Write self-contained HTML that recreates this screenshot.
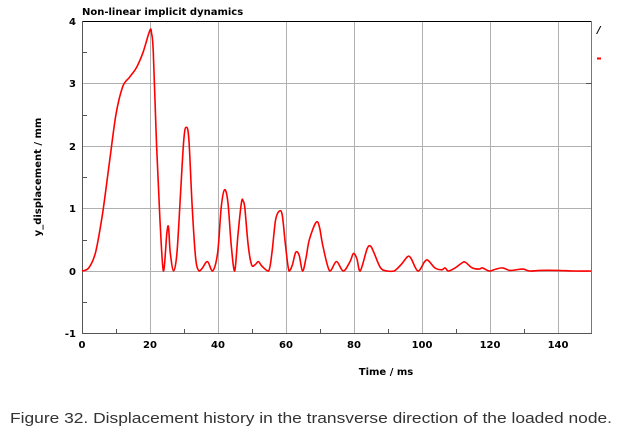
<!DOCTYPE html>
<html><head><style>
html,body{margin:0;padding:0;background:#fff;}
</style></head><body>
<svg id="s" width="619" height="431" xmlns="http://www.w3.org/2000/svg" font-family="'DejaVu Sans','Liberation Sans',sans-serif">
<g stroke="#b0b0b0" stroke-width="1">
<line x1="150.5" y1="21" x2="150.5" y2="334"/>
<line x1="218.5" y1="21" x2="218.5" y2="334"/>
<line x1="286.5" y1="21" x2="286.5" y2="334"/>
<line x1="354.5" y1="21" x2="354.5" y2="334"/>
<line x1="422.5" y1="21" x2="422.5" y2="334"/>
<line x1="490.5" y1="21" x2="490.5" y2="334"/>
<line x1="558.5" y1="21" x2="558.5" y2="334"/>
<line x1="82" y1="83.5" x2="592" y2="83.5"/>
<line x1="82" y1="146.5" x2="592" y2="146.5"/>
<line x1="82" y1="208.5" x2="592" y2="208.5"/>
<line x1="82" y1="271.5" x2="592" y2="271.5"/>
</g>
<line x1="82" y1="21.5" x2="592" y2="21.5" stroke="#000" stroke-width="1"/>
<line x1="591.5" y1="21" x2="591.5" y2="334" stroke="#777"/>
<line x1="82.5" y1="21" x2="82.5" y2="334" stroke="#555"/>
<line x1="82" y1="333.5" x2="592" y2="333.5" stroke="#555"/>
<g stroke="#555">
<line x1="82" y1="52.5" x2="87" y2="52.5"/><line x1="82" y1="115.5" x2="87" y2="115.5"/>
<line x1="82" y1="177.5" x2="87" y2="177.5"/><line x1="82" y1="240.5" x2="87" y2="240.5"/>
<line x1="82" y1="302.5" x2="87" y2="302.5"/>
<line x1="586" y1="83.5" x2="592" y2="83.5"/>
<line x1="116.5" y1="334" x2="116.5" y2="329"/><line x1="184.5" y1="334" x2="184.5" y2="329"/>
<line x1="252.5" y1="334" x2="252.5" y2="329"/><line x1="320.5" y1="334" x2="320.5" y2="329"/>
<line x1="388.5" y1="334" x2="388.5" y2="329"/><line x1="456.5" y1="334" x2="456.5" y2="329"/>
<line x1="524.5" y1="334" x2="524.5" y2="329"/>
</g>
<g font-size="10" font-weight="bold" fill="#000">
<text x="82" y="15">Non-linear implicit dynamics</text>
<g text-anchor="end"><text x="76" y="25">4</text><text x="76" y="87">3</text><text x="76" y="150">2</text><text x="76" y="212">1</text><text x="76" y="275">0</text><text x="76" y="337">-1</text></g>
<g text-anchor="middle"><text x="82" y="348">0</text><text x="150" y="348">20</text><text x="218" y="348">40</text><text x="286" y="348">60</text><text x="354" y="348">80</text><text x="422" y="348">100</text><text x="490" y="348">120</text><text x="558" y="348">140</text>
<text x="386" y="375">Time / ms</text>
<text transform="translate(41,177) rotate(-90)">y_displacement / mm</text></g>
</g>
<text x="597" y="33" font-size="10" font-weight="bold" font-style="italic">/</text>
<line x1="597" y1="58.5" x2="601" y2="58.5" stroke="red" stroke-width="2"/>
<text x="10" y="423" font-size="15" fill="#333" textLength="602" lengthAdjust="spacingAndGlyphs" font-family="'Liberation Sans',sans-serif">Figure 32. Displacement history in the transverse direction of the loaded node.</text>
<path id="c" fill="none" stroke="red" stroke-width="1.6" stroke-linejoin="round"/>
</svg>
<script>
var d=[0,0,2,0.05,4,0.3,6,0.9,8,1.7,10,2.5,12,2.95,14,3.1,16,3.25,18,3.5,20,3.85,20.5,3.8,21,3.5,22,2.0,23,0.8,24,0,25,0.6,25.5,0.7,26,0.3,27,0,28,0.3,29,1.2,30,2.1,30.7,2.3,31.5,2.1,32.5,1.0,33.5,0.2,34.5,0,35.5,0.05,37,0.15,38.5,0,40,0.3,41,1.0,42,1.3,43,1.1,44,0.4,45,0,46,0.6,47,1.1,47.5,1.12,48,1.0,49,0.4,50,0.1,51,0.1,52,0.15,53,0.08,55,0,56,0.3,57,0.8,58,0.95,59,0.9,60,0.4,61,0,62,0.1,63,0.3,64,0.25,65,0,66,0.2,67,0.5,69,0.78,70,0.7,71,0.4,73,0,75,0.15,77,0,79,0.15,80,0.28,81,0.2,82,0,84,0.35,85,0.4,86,0.3,88,0.05,90,0,92,0,94,0.1,96,0.23,97,0.2,99,0,101,0.15,102,0.17,104,0.05,106,0.02,107,0.05,108,0,110,0.05,112,0.13,113,0.14,115,0.05,117,0.03,118,0.05,120,0,122,0.03,124,0.05,126,0.01,128,0.02,130,0.03,132,0,135,0.01,140,0.01,145,0,150,0];
var P=[];for(var i=0;i<d.length;i+=2){P.push([82+d[i]*3.393,271-d[i+1]*62.5]);}
var s="M"+P[0][0].toFixed(1)+","+P[0][1].toFixed(1);
for(var i=0;i<P.length-1;i++){var a=P[Math.max(0,i-1)],b=P[i],c=P[i+1],e=P[Math.min(P.length-1,i+2)];
var c1=[b[0]+(c[0]-a[0])/6,b[1]+(c[1]-a[1])/6],c2=[c[0]-(e[0]-b[0])/6,c[1]-(e[1]-b[1])/6];
c1[1]=Math.min(c1[1],271.5);c2[1]=Math.min(c2[1],271.5);
s+=" C"+c1[0].toFixed(1)+","+c1[1].toFixed(1)+" "+c2[0].toFixed(1)+","+c2[1].toFixed(1)+" "+c[0].toFixed(1)+","+c[1].toFixed(1);}
document.getElementById("c").setAttribute("d",s);
</script>
</body></html>
